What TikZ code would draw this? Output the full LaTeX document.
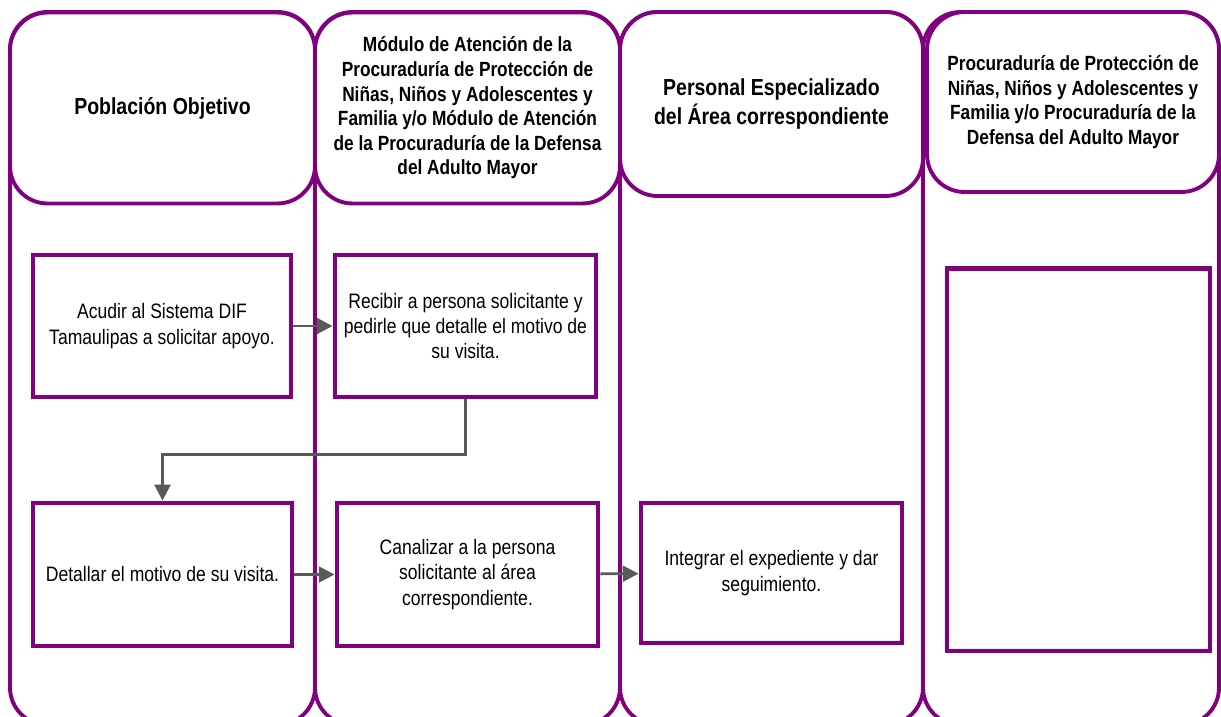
\documentclass[tikz,border=0pt]{standalone}
\usepackage{fontspec}
\setmainfont[FakeStretch=0.84]{Liberation Sans}
\usetikzlibrary{arrows.meta}

\definecolor{lanepurple}{RGB}{128,0,128}
\definecolor{flowgray}{RGB}{89,89,89}

\begin{document}
\begin{tikzpicture}[x=0.02cm,y=-0.02cm,
    lane/.style={draw=lanepurple,line width=2.2pt,rounded corners=0.75cm},
    head/.style={draw=lanepurple,line width=2.2pt,rounded corners=0.75cm,
      fill=white,align=center,inner sep=0pt},
    bighead/.style={head,font=\bfseries\fontsize{13.2}{16.5}\selectfont},
    smallhead/.style={head,font=\bfseries\fontsize{11.7}{14}\selectfont},
    task/.style={draw=lanepurple,line width=2.8pt,fill=white,align=center,
      inner sep=0pt,font=\fontsize{11.9}{14.5}\selectfont},
    flow/.style={draw=flowgray,line width=1.6pt,-{Triangle[length=9pt,width=9pt]}}]
  \useasboundingbox (0,0) rectangle (1221,717);
  \clip (0,0) rectangle (1221,717);

  % swimlanes
  \draw[lane] (10,12) rectangle (315,725);
  \draw[lane] (315,12) rectangle (620,725);
  \draw[lane] (620,12) rectangle (923,725);
  \draw[lane] (923,12) rectangle (1219,725);

  % lane headers
  \node[bighead,minimum width=6.1cm,minimum height=3.82cm] (hpob) at (162.5,108)
    {Población Objetivo};
  \node[smallhead,minimum width=6.1cm,minimum height=3.82cm] (hmod) at (467.5,108)
    {Módulo de Atención de la\\Procuraduría de Protección de\\Niñas, Niños y Adolescentes y\\Familia y/o Módulo de Atención\\de la Procuraduría de la Defensa\\del Adulto Mayor};
  \node[bighead,minimum width=6.06cm,minimum height=3.68cm] (hper) at (771.5,104)
    {Personal Especializado\\del Área correspondiente};
  \node[smallhead,minimum width=5.84cm,minimum height=3.6cm] (hpro) at (1073,102)
    {Procuraduría de Protección de\\Niñas, Niños y Adolescentes y\\Familia y/o Procuraduría de la\\Defensa del Adulto Mayor};

  % tasks
  \node[task,minimum width=5.16cm,minimum height=2.84cm] (acudir) at (162,326)
    {Acudir al Sistema DIF\\Tamaulipas a solicitar apoyo.};
  \node[task,minimum width=5.22cm,minimum height=2.84cm] (recibir) at (465.5,326)
    {Recibir a persona solicitante y\\pedirle que detalle el motivo de\\su visita.};
  \node[task,minimum width=5.18cm,minimum height=2.86cm] (detallar) at (162.5,574.5)
    {Detallar el motivo de su visita.};
  \node[task,minimum width=5.22cm,minimum height=2.86cm] (canalizar) at (467.5,574.5)
    {Canalizar a la persona\\solicitante al área\\correspondiente.};
  \node[task,minimum width=5.22cm,minimum height=2.8cm] (integrar) at (771.5,573)
    {Integrar el expediente y dar\\seguimiento.};
  \node[task,minimum width=5.26cm,minimum height=7.66cm] (vacio) at (1078.5,459.5) {};

  % connectors
  \draw[flow] (acudir) -- (recibir);
  \draw[flow] (recibir.south) -- ++(0,55) -| (detallar.north);
  \draw[flow] (detallar) -- (canalizar);
  \draw[flow] (canalizar) -- (integrar);
\end{tikzpicture}
\end{document}
